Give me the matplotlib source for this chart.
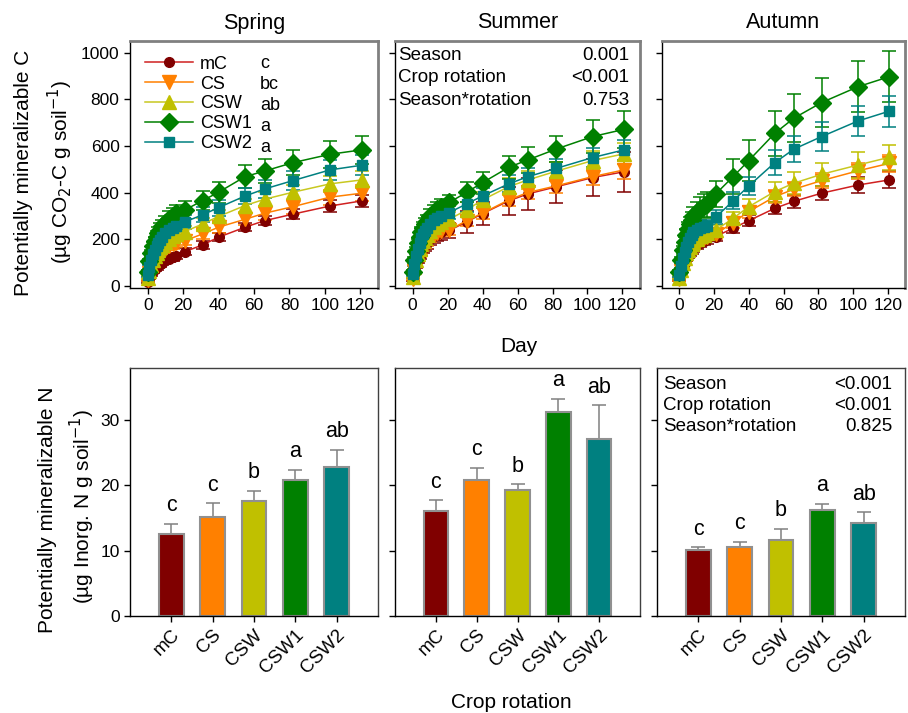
import matplotlib
matplotlib.use('Agg')
import matplotlib.pyplot as plt
import numpy as np

plt.rcParams['font.family'] = ['Liberation Sans', 'DejaVu Sans']
plt.rcParams['font.size'] = 12

# sampling days of the incubation
days = [0, 1, 2, 3, 4, 5, 6, 7, 8, 10, 12, 14, 16, 21, 31, 40, 55, 66, 82, 103, 121]
rotations = ['mC', 'CS', 'CSW', 'CSW1', 'CSW2']
seasons = ['Spring', 'Summer', 'Autumn']

# cumulative mineralized C (ug CO2-C / g soil)
spring_c = {
    'mC':   [18, 36, 50, 62, 72, 80, 88, 94, 100, 110, 117, 123, 128, 147, 176, 209, 252, 280, 308, 343, 365],
    'CS':   [25, 55, 75, 92, 106, 118, 128, 137, 146, 158, 170, 178, 185, 194, 223, 252, 286, 312, 340, 381, 398],
    'CSW':  [35, 65, 90, 110, 128, 142, 155, 166, 176, 190, 203, 213, 221, 233, 266, 298, 345, 372, 402, 438, 455],
    'CSW1': [60, 105, 140, 170, 192, 212, 228, 242, 255, 272, 288, 300, 312, 326, 366, 402, 469, 493, 529, 565, 584],
    'CSW2': [45, 80, 110, 135, 155, 172, 186, 198, 210, 226, 240, 250, 258, 275, 305, 336, 386, 416, 452, 498, 518],
}
spring_c_err = {
    'mC':   [5, 6, 7, 8, 9, 10, 10, 11, 12, 12, 13, 14, 14, 15, 16, 17, 18, 18, 20, 24, 25],
    'CS':   [6, 8, 9, 10, 11, 12, 13, 14, 15, 16, 17, 18, 19, 20, 22, 24, 26, 28, 30, 32, 35],
    'CSW':  [6, 8, 10, 11, 12, 13, 14, 15, 16, 17, 18, 19, 20, 22, 24, 26, 28, 30, 32, 34, 36],
    'CSW1': [8, 12, 15, 18, 20, 22, 24, 26, 28, 30, 32, 34, 36, 40, 42, 45, 48, 52, 55, 58, 60],
    'CSW2': [6, 9, 11, 13, 15, 17, 18, 20, 21, 23, 25, 27, 28, 30, 32, 34, 36, 38, 40, 42, 44],
}
summer_c = {
    'mC':   [28, 62, 88, 110, 130, 146, 160, 172, 183, 200, 213, 223, 230, 238, 275, 310, 365, 395, 425, 465, 490],
    'CS':   [30, 65, 92, 115, 135, 151, 165, 177, 188, 205, 218, 228, 234, 240, 280, 312, 369, 401, 429, 469, 498],
    'CSW':  [40, 80, 110, 138, 160, 178, 194, 207, 218, 236, 252, 265, 275, 286, 326, 369, 426, 455, 492, 538, 567],
    'CSW1': [60, 110, 150, 185, 210, 232, 250, 265, 278, 298, 315, 328, 338, 358, 402, 443, 509, 541, 587, 641, 672],
    'CSW2': [50, 95, 130, 160, 185, 205, 222, 236, 248, 266, 281, 293, 302, 315, 352, 386, 438, 469, 504, 551, 584],
}
summer_c_err = {
    'mC':   [6, 9, 11, 13, 15, 17, 19, 21, 23, 26, 28, 30, 32, 34, 47, 50, 61, 69, 71, 80, 85],
    'CS':   [5, 7, 9, 10, 11, 12, 13, 14, 15, 16, 17, 18, 19, 20, 22, 24, 26, 28, 30, 34, 38],
    'CSW':  [6, 9, 11, 13, 15, 17, 18, 20, 21, 23, 25, 27, 28, 30, 32, 34, 36, 38, 40, 42, 45],
    'CSW1': [8, 12, 15, 18, 20, 22, 24, 26, 28, 30, 31, 32, 33, 34, 44, 47, 50, 57, 57, 71, 79],
    'CSW2': [6, 9, 11, 13, 15, 17, 18, 20, 21, 23, 25, 27, 28, 30, 33, 35, 37, 39, 40, 42, 43],
}
autumn_c = {
    'mC':   [25, 55, 80, 100, 117, 131, 143, 153, 162, 175, 185, 193, 200, 212, 248, 280, 333, 363, 398, 433, 455],
    'CS':   [28, 62, 88, 110, 128, 143, 155, 166, 175, 188, 198, 205, 210, 223, 272, 319, 383, 415, 452, 494, 526],
    'CSW':  [35, 70, 98, 120, 140, 155, 168, 180, 190, 203, 213, 220, 226, 240, 290, 340, 405, 441, 479, 519, 552],
    'CSW1': [60, 110, 155, 190, 220, 245, 265, 283, 298, 318, 332, 342, 350, 395, 469, 538, 655, 720, 787, 855, 898],
    'CSW2': [45, 85, 118, 145, 168, 188, 205, 218, 230, 240, 248, 252, 255, 295, 365, 429, 529, 587, 641, 708, 750],
}
autumn_c_err = {
    'mC':   [5, 7, 9, 10, 11, 12, 13, 14, 15, 16, 17, 18, 19, 20, 22, 24, 26, 28, 30, 36, 36],
    'CS':   [5, 7, 9, 10, 11, 12, 13, 14, 15, 16, 17, 18, 19, 20, 24, 26, 28, 30, 32, 34, 36],
    'CSW':  [6, 8, 10, 11, 12, 13, 14, 15, 16, 17, 18, 19, 20, 22, 28, 32, 43, 46, 50, 54, 53],
    'CSW1': [8, 12, 16, 20, 24, 28, 32, 36, 40, 44, 48, 52, 55, 57, 74, 86, 97, 103, 104, 110, 110],
    'CSW2': [6, 9, 11, 13, 15, 17, 18, 20, 21, 23, 25, 27, 28, 30, 36, 40, 54, 57, 64, 64, 66],
}
c_data = [spring_c, summer_c, autumn_c]
c_errs = [spring_c_err, summer_c_err, autumn_c_err]
c_letters = ['c', 'bc', 'ab', 'a', 'a']

# potentially mineralizable N
n_mean = [
    [12.6, 15.2, 17.6, 20.9, 22.9],
    [16.1, 20.8, 19.3, 31.2, 27.1],
    [10.1, 10.6, 11.6, 16.2, 14.3],
]
n_err = [
    [1.5, 2.1, 1.6, 1.5, 2.6],
    [1.6, 1.9, 0.9, 2.1, 5.2],
    [0.4, 0.8, 1.8, 1.0, 1.6],
]
n_letters = [
    ['c', 'c', 'b', 'a', 'ab'],
    ['c', 'c', 'b', 'a', 'ab'],
    ['c', 'c', 'b', 'a', 'ab'],
]

stats_c = [('Season', '0.001'), ('Crop rotation', '<0.001'), ('Season*rotation', '0.753')]
stats_n = [('Season', '<0.001'), ('Crop rotation', '<0.001'), ('Season*rotation', '0.825')]

marker_col = {'mC': '#800000', 'CS': '#FF8000', 'CSW': '#C0C000', 'CSW1': '#008000', 'CSW2': '#008080'}
line_col = {'mC': '#D02020', 'CS': '#FF8000', 'CSW': '#C8C820', 'CSW1': '#008000', 'CSW2': '#008080'}
markers = {'mC': ('o', 7), 'CS': ('v', 10), 'CSW': ('^', 10), 'CSW1': ('D', 9.5), 'CSW2': ('s', 7)}

W, H = 908, 713
fig = plt.figure(figsize=(W / 100, H / 100), dpi=100)

top_x = [(130, 378), (395, 640), (662, 905)]
bot_x = [(130, 378), (395, 640), (657, 905)]


def frac(x0, x1, y0, y1):
    return [x0 / W, 1 - y1 / H, (x1 - x0) / W, (y1 - y0) / H]


def style(ax, grey_frame):
    for s in ['left', 'bottom']:
        ax.spines[s].set_color('black')
        ax.spines[s].set_linewidth(1.0)
    for s in ['top', 'right']:
        ax.spines[s].set_color('#808080' if grey_frame else '#404040')
        ax.spines[s].set_linewidth(2.0 if grey_frame else 1.0)
    ax.tick_params(direction='out', length=4, width=1, labelsize=12.5)


top_axes = []
for i, season in enumerate(seasons):
    ax = fig.add_axes(frac(top_x[i][0], top_x[i][1], 41, 288))
    style(ax, True)
    for r in rotations:
        mk, ms = markers[r]
        ax.errorbar(days, c_data[i][r], yerr=c_errs[i][r], color=line_col[r], lw=1.1,
                    marker=mk, ms=ms, mfc=marker_col[r], mec=marker_col[r],
                    ecolor=marker_col[r], elinewidth=1.1, capsize=5, capthick=1.1,
                    label=r, zorder=3)
    ax.set_xlim(-10, 130)
    ax.set_ylim(-9, 1051)
    ax.set_xticks(range(0, 121, 20))
    ax.set_yticks(range(0, 1001, 200))
    ax.set_title(season, fontsize=15.5, pad=9)
    if i > 0:
        ax.set_yticklabels([])
    top_axes.append(ax)

ax = top_axes[0]
handles = []
for r in rotations:
    mk, ms = markers[r]
    h, = ax.plot([], [], color=line_col[r], marker=mk, ms=ms, mfc=marker_col[r], mec=marker_col[r], lw=1.1)
    handles.append(h)
ax.legend(handles, rotations, loc='upper left', frameon=False, fontsize=13,
          handlelength=2.7, handletextpad=0.35, labelspacing=0.16, borderaxespad=0.0,
          bbox_to_anchor=(0.03, 0.97))
for k, let in enumerate(c_letters):
    ax.text(0.524, 0.907 - k * 0.085, let, transform=ax.transAxes, fontsize=13, va='center', ha='left')

ax = top_axes[1]
for k, (name, p) in enumerate(stats_c):
    ax.text(0.012, 0.943 - k * 0.091, name, transform=ax.transAxes, fontsize=13.5, va='center', ha='left')
    ax.text(0.955, 0.943 - k * 0.091, p, transform=ax.transAxes, fontsize=13.5, va='center', ha='right')

bot_axes = []
xpos = np.arange(len(rotations))
for i in range(3):
    ax = fig.add_axes(frac(bot_x[i][0], bot_x[i][1], 368, 616))
    style(ax, False)
    ax.bar(xpos, n_mean[i], width=0.6, color=[marker_col[r] for r in rotations],
           edgecolor='#909090', linewidth=1.5, zorder=2)
    ax.errorbar(xpos, n_mean[i], yerr=[np.zeros(5), n_err[i]], fmt='none',
                ecolor='#808080', elinewidth=1.1, capsize=5, capthick=1.1, zorder=1)
    for j in range(5):
        ax.annotate(n_letters[i][j], (xpos[j], n_mean[i][j] + n_err[i][j]),
                    xytext=(0, 9), textcoords='offset points', ha='center', va='baseline', fontsize=15.5)
    ax.set_xlim(-1, 5)
    ax.set_ylim(0, 38)
    ax.set_yticks([0, 10, 20, 30])
    ax.set_xticks(xpos)
    ax.set_xticklabels(rotations, rotation=45, ha='right', rotation_mode='anchor', fontsize=13.5)
    if i > 0:
        ax.set_yticklabels([])
    bot_axes.append(ax)

ax = bot_axes[2]
for k, (name, p) in enumerate(stats_n):
    ax.text(0.024, 0.935 - k * 0.086, name, transform=ax.transAxes, fontsize=13.5, va='center', ha='left')
    ax.text(0.948, 0.935 - k * 0.086, p, transform=ax.transAxes, fontsize=13.5, va='center', ha='right')

# axis labels placed like the original layout
fig.text(24 / W, 1 - 173 / H, 'Potentially mineralizable C', rotation=90, fontsize=15, ha='center', va='center')
fig.text(60 / W, 1 - 172 / H, '(µg CO$_2$-C g soil$^{-1}$)', rotation=90, fontsize=15, ha='center', va='center')
fig.text(48 / W, 1 - 510 / H, 'Potentially mineralizable N', rotation=90, fontsize=15, ha='center', va='center')
fig.text(82 / W, 1 - 506 / H, '(µg Inorg. N g soil$^{-1}$)', rotation=90, fontsize=15, ha='center', va='center')
fig.text(519 / W, 1 - 346 / H, 'Day', fontsize=15, ha='center', va='center')
fig.text(511 / W, 1 - 702 / H, 'Crop rotation', fontsize=15, ha='center', va='center')

fig.savefig('out.png', dpi=100)
